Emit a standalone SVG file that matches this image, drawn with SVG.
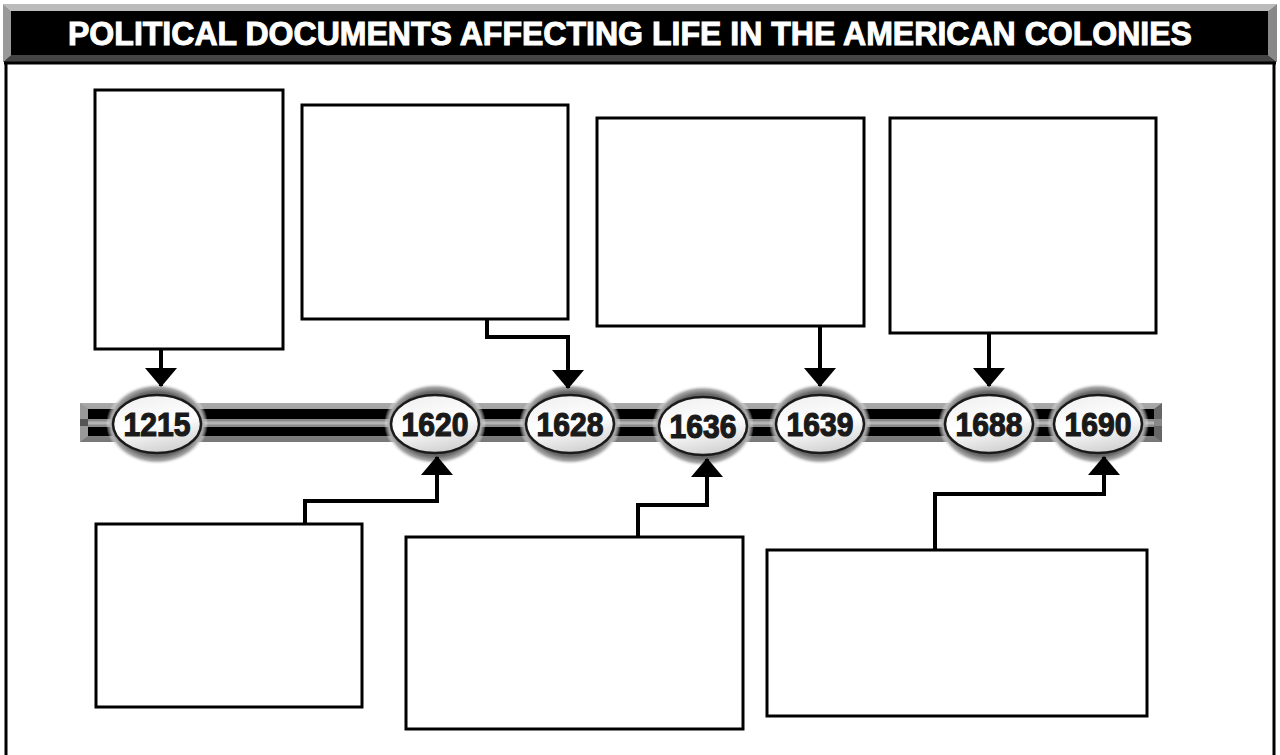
<svg xmlns="http://www.w3.org/2000/svg" width="1280" height="755" viewBox="0 0 1280 755">
<style>
.box{fill:#fff;stroke:#000;stroke-width:3}
.conn{fill:none;stroke:#000;stroke-width:4}
.date{font-family:"Liberation Sans",Arial,sans-serif;font-weight:bold;font-size:33px;fill:#1a1a1a;stroke:#1a1a1a;stroke-width:1.2;text-anchor:middle}
.title{font-family:"Liberation Sans",Arial,sans-serif;font-weight:bold;font-size:33px;fill:#fff;stroke:#fff;stroke-width:1;text-anchor:middle}
.oval{fill:url(#ovalFill);stroke:#1a1a1a;stroke-width:2.5}
.halo{fill:url(#haloFill)}
</style>
<defs>
<marker id="arrow" viewBox="0 0 19 32" refX="18" refY="16" markerWidth="19" markerHeight="32" markerUnits="userSpaceOnUse" orient="auto">
<path d="M0,0 L19,16 L0,32 Z" fill="#000"/>
</marker>
<radialGradient id="haloFill" cx="0.5" cy="0.5" r="0.5">
<stop offset="0.78" stop-color="#666"/>
<stop offset="0.9" stop-color="#aaa"/>
<stop offset="1" stop-color="#fff" stop-opacity="0"/>
</radialGradient>
<linearGradient id="ovalFill" x1="0.3" y1="0" x2="0.6" y2="1">
<stop offset="0" stop-color="#f0f0f0"/>
<stop offset="0.5" stop-color="#ffffff"/>
<stop offset="1" stop-color="#d0d0d0"/>
</linearGradient>
<linearGradient id="barEdge" x1="0" y1="0" x2="0" y2="1">
<stop offset="0" stop-color="#aaa"/>
<stop offset="1" stop-color="#777"/>
</linearGradient>
<g id="oval">
<ellipse class="halo" cx="0" cy="0" rx="51" ry="41"/>
<ellipse class="oval" cx="0" cy="0" rx="44" ry="29"/>
</g>
</defs>

<rect x="0" y="0" width="1280" height="755" fill="#fff"/>

<g id="header">
<polygon points="3,4 1277,4 1268,11 11,11" fill="#bbb"/>
<polygon points="3,4 11,11 11,55 3,62" fill="#999"/>
<polygon points="1277,4 1268,11 1268,55 1277,62" fill="#888"/>
<polygon points="3,62 11,55 1268,55 1277,62" fill="#444"/>
<rect x="11" y="11" width="1257" height="44" fill="#000"/>
<text class="title" x="630" y="45" textLength="1124" lengthAdjust="spacingAndGlyphs">POLITICAL DOCUMENTS AFFECTING LIFE IN THE AMERICAN COLONIES</text>
</g>

<g id="frame">
<line x1="4" y1="63" x2="1276" y2="63" stroke="#000" stroke-width="3"/>
<line x1="6" y1="62" x2="6" y2="755" stroke="#000" stroke-width="3"/>
<line x1="1274" y1="62" x2="1274" y2="755" stroke="#000" stroke-width="3"/>
</g>

<g id="timeline-bar">
<rect x="80" y="403" width="1082" height="39" fill="url(#barEdge)"/>
<polygon points="80,403 88,409 88,436 80,442" fill="#999"/>
<polygon points="1162,403 1154,409 1154,436 1162,442" fill="#666"/>
<rect x="80" y="419" width="8" height="7" fill="#555"/>
<rect x="1154" y="419" width="8" height="7" fill="#888"/>
<rect x="88" y="409" width="1066" height="10" fill="#000"/>
<rect x="88" y="419" width="1066" height="8" fill="#8a8a8a"/>
<rect x="88" y="421.5" width="1066" height="3" fill="#b5b5b5"/>
<rect x="88" y="427" width="1066" height="9" fill="#000"/>
</g>

<g id="boxes-top">
<rect id="box1" class="box" x="95" y="90" width="188" height="259"/>
<rect id="box2" class="box" x="302" y="105" width="266" height="214"/>
<rect id="box3" class="box" x="597" y="118" width="267" height="208"/>
<rect id="box4" class="box" x="890" y="118" width="266" height="215"/>
</g>
<g id="boxes-bottom">
<rect id="box5" class="box" x="96" y="524" width="266" height="183"/>
<rect id="box6" class="box" x="406" y="537" width="337" height="192"/>
<rect id="box7" class="box" x="767" y="550" width="380" height="166"/>
</g>

<g id="d1215"><use href="#oval" x="157" y="424"/><text class="date" x="157" y="436" textLength="67" lengthAdjust="spacingAndGlyphs">1215</text></g>
<g id="d1620"><use href="#oval" x="435" y="424"/><text class="date" x="435" y="436" textLength="67" lengthAdjust="spacingAndGlyphs">1620</text></g>
<g id="d1628"><use href="#oval" x="570" y="424"/><text class="date" x="570" y="436" textLength="67" lengthAdjust="spacingAndGlyphs">1628</text></g>
<g id="d1636"><use href="#oval" x="703" y="426"/><text class="date" x="703" y="438" textLength="67" lengthAdjust="spacingAndGlyphs">1636</text></g>
<g id="d1639"><use href="#oval" x="820" y="424"/><text class="date" x="820" y="436" textLength="67" lengthAdjust="spacingAndGlyphs">1639</text></g>
<g id="d1688"><use href="#oval" x="989" y="424"/><text class="date" x="989" y="436" textLength="67" lengthAdjust="spacingAndGlyphs">1688</text></g>
<g id="d1690"><use href="#oval" x="1098" y="424"/><text class="date" x="1098" y="436" textLength="67" lengthAdjust="spacingAndGlyphs">1690</text></g>

<g id="connectors">
<path class="conn" d="M161,349 V386" marker-end="url(#arrow)"/>
<path class="conn" d="M487,319 V337 H568 V388" marker-end="url(#arrow)"/>
<path class="conn" d="M820,326 V386" marker-end="url(#arrow)"/>
<path class="conn" d="M989,333 V386" marker-end="url(#arrow)"/>
<path class="conn" d="M305,524 V501 H437 V457" marker-end="url(#arrow)"/>
<path class="conn" d="M638,537 V505 H707 V459" marker-end="url(#arrow)"/>
<path class="conn" d="M935,550 V494 H1104 V457" marker-end="url(#arrow)"/>
</g>
</svg>
